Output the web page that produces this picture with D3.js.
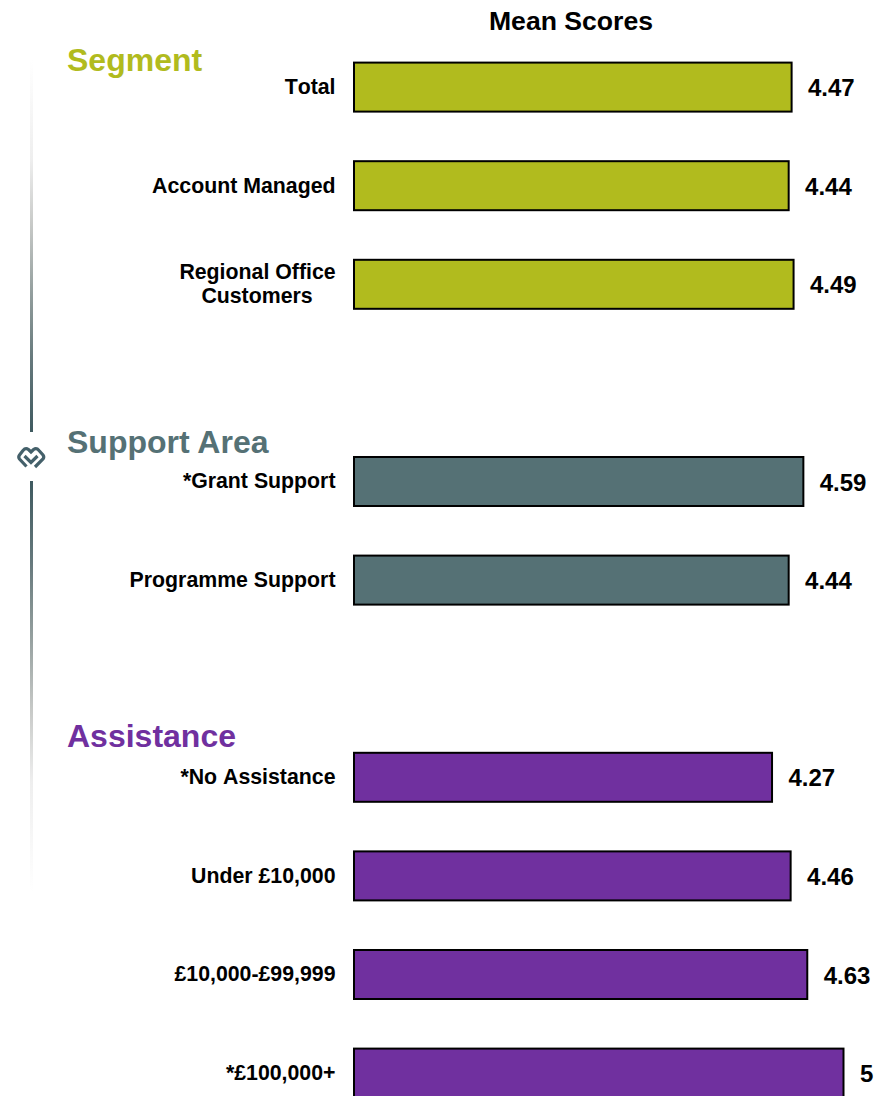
<!DOCTYPE html>
<html lang="en">
<head>
<meta charset="utf-8">
<title>Mean Scores</title>
<script src="https://d3js.org/d3.v7.min.js"></script>
<style>
  html, body { margin: 0; padding: 0; background: #fff; overflow: hidden; }
  text { font-family: "Liberation Sans", Arial, sans-serif; font-weight: bold; }
  .label { font-kerning: none; }
</style>
</head>
<body>
<script>
// rows run top to bottom, the blank rows are the gaps between groups
var rows = ["Total", "Account Managed", "Regional Office Customers", "gap1",
  "*Grant Support", "Programme Support", "gap2",
  "*No Assistance", "Under £10,000", "£10,000-£99,999", "*£100,000+"];
var categories = rows.filter(function(r) { return r.indexOf("gap") !== 0; });
var values = [4.47, 4.44, 4.49, 4.59, 4.44, 4.27, 4.46, 4.63, 5];
var valueLabels = ["4.47", "4.44", "4.49", "4.59", "4.44", "4.27", "4.46", "4.63", "5"];
var groupOf = ["Segment", "Segment", "Segment", "Support Area", "Support Area",
  "Assistance", "Assistance", "Assistance", "Assistance"];
var groups = ["Segment", "Support Area", "Assistance"];
var groupColors = ["#b1bb1e", "#557175", "#70309f"];
var groupHeadingY = [71, 453, 747];

var width = 882, height = 1096;

var svg = d3.select("body").append("svg")
  .attr("width", width)
  .attr("height", height)
  .style("display", "block");

var x = d3.scaleLinear().domain([0, 5]).range([354, 843.5]);
var y = d3.scaleBand().domain(rows).range([37.8, 1122.4]).paddingInner(0.503).paddingOuter(0.2515);
var color = d3.scaleOrdinal().domain(groups).range(groupColors);

// the rule fades through neutral grey before it turns slate
var fadeOffsets = [0, 0.27, 0.44, 0.62, 0.8, 1];
var fadeColors = ["#ffffff", "#eeeeee", "#c8cac8", "#95a09f", "#677a7d", "#3f5a60"];
var defs = svg.append("defs");
function addFade(id, y1, y2) {
  defs.append("linearGradient").attr("id", id)
    .attr("gradientUnits", "userSpaceOnUse")
    .attr("x1", 0).attr("x2", 0).attr("y1", y1).attr("y2", y2)
    .selectAll("stop")
    .data(fadeOffsets)
    .enter()
    .append("stop")
    .attr("offset", function(d) { return d; })
    .attr("stop-color", function(d, i) { return fadeColors[i]; });
}
addFade("fadeUp", 60, 432);
addFade("fadeDown", 892, 481);

// side rule with the logo in the gap
svg.append("rect").attr("x", 30).attr("y", 60).attr("width", 3).attr("height", 372).attr("fill", "url(#fadeUp)");
svg.append("rect").attr("x", 30).attr("y", 481).attr("width", 3).attr("height", 411).attr("fill", "url(#fadeDown)");
svg.append("path")
  .attr("d", "M26.5 466.5 L19.5 459 Q18 457 19.5 455 L23 450.5 Q25.5 447.5 28.5 449.5 L31 452 L33.5 449.5 Q36.5 447.5 39 450.5 L43 455 Q44.5 457 43 459 L35 467 M24.5 456 L31 462.5 L37.5 456")
  .attr("fill", "none")
  .attr("stroke", "#44606a")
  .attr("stroke-width", 3.2);

svg.append("text")
  .attr("x", 571).attr("y", 30)
  .attr("text-anchor", "middle")
  .attr("font-size", 26.6)
  .text("Mean Scores");

svg.selectAll(".heading")
  .data(groups)
  .enter()
  .append("text")
  .attr("class", "heading")
  .attr("x", 67)
  .attr("y", function(d, i) { return groupHeadingY[i]; })
  .attr("font-size", 32)
  .attr("fill", function(d) { return color(d); })
  .text(function(d) { return d; });

svg.selectAll(".bar")
  .data(categories)
  .enter()
  .append("rect")
  .attr("class", "bar")
  .attr("x", x(0))
  .attr("y", function(d) { return y(d); })
  .attr("width", function(d, i) { return x(values[i]) - x(0); })
  .attr("height", y.bandwidth())
  .attr("fill", function(d, i) { return color(groupOf[i]); })
  .attr("stroke", "#000")
  .attr("stroke-width", 2);

svg.selectAll(".value")
  .data(categories)
  .enter()
  .append("text")
  .attr("class", "value")
  .attr("x", function(d, i) { return x(values[i]) + 16.4; })
  .attr("y", function(d) { return y(d) + y.bandwidth() / 2 + 9; })
  .attr("font-size", 24)
  .text(function(d, i) { return valueLabels[i]; });

var labels = svg.selectAll(".label")
  .data(categories)
  .enter()
  .append("text")
  .attr("class", "label")
  .attr("font-size", 21.3)
  .attr("text-anchor", "end");

labels.filter(function(d) { return d !== "Regional Office Customers"; })
  .attr("x", 335.5)
  .attr("y", function(d) { return y(d) + y.bandwidth() / 2 + 6.8; })
  .text(function(d) { return d; });

// the one wrapped label, second line is centred under the first
var wrapped = labels.filter(function(d) { return d === "Regional Office Customers"; })
  .attr("text-anchor", "middle")
  .attr("y", function(d) { return y(d) + y.bandwidth() / 2 - 5.5; });
wrapped.append("tspan").attr("x", 257.5).text("Regional Office");
wrapped.append("tspan").attr("x", 257).attr("dy", 24).text("Customers");
</script>
</body>
</html>
